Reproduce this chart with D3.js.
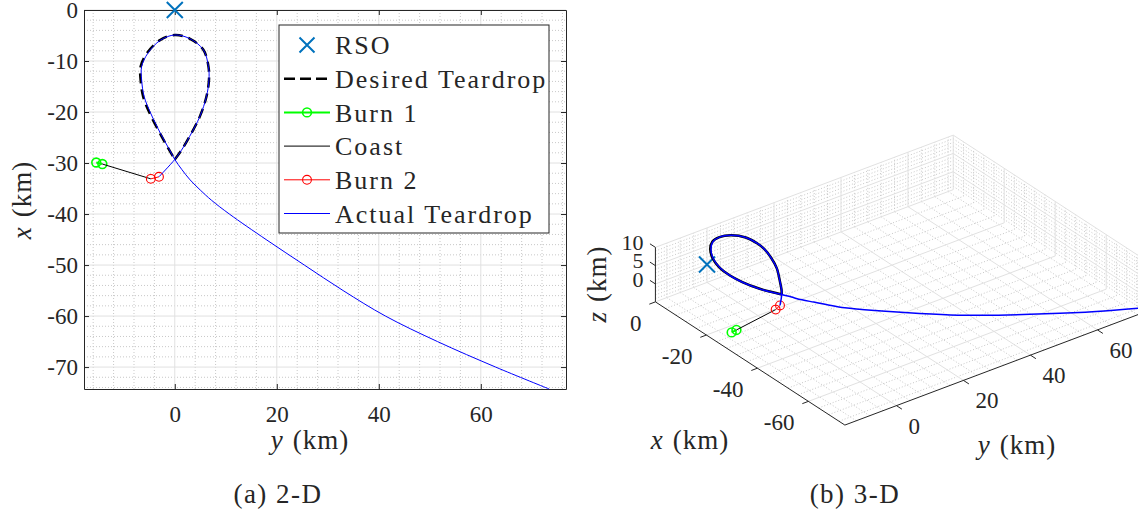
<!DOCTYPE html>
<html><head><meta charset="utf-8">
<script src="https://cdn.jsdelivr.net/npm/d3@7"></script>
<style>
body{margin:0;background:#fff;}
svg text{font-family:"Liberation Serif","DejaVu Serif",serif;fill:#262626;}
</style></head><body>
<svg id="c" width="1138" height="516"></svg>
<script>
// ---------------- DATA (km) ----------------
const rsoX=[0], rsoY=[0], rsoZ=[0];
const desiredX=[-29.3,-27.5,-24.8,-20.9,-17.0,-13.7,-11.1,-7.8,-5.6,-4.9,-5.9,-8.5,-11.1,-13.7,-17.0,-20.3,-24.2,-27.1,-29.3];
const desiredY=[0,1.3,2.9,4.9,6.2,6.7,6.6,5.6,2.9,0,-2.9,-5.5,-6.7,-6.7,-6.2,-4.9,-2.9,-1.3,0];
const desiredZ=[5.1,5.2,5.6,6.8,7.4,8.1,8.5,9.0,9.5,9.7,9.9,10.0,8.9,7.7,6.9,6.1,5.4,5.2,5.1];
const burn1X=[-29.9,-30.2], burn1Y=[-15.4,-14.2], burn1Z=[0.3,0.7];
const coastX=[-30.2,-33.1], coastY=[-14.2,-4.7], coastZ=[0.7,4.3];
const burn2X=[-33.1,-32.7], burn2Y=[-4.7,-3.1], burn2Z=[4.3,4.7];
const actualX=[-32.7,-29.3,-27.5,-24.8,-20.9,-17.0,-13.7,-11.1,-7.8,-5.6,-4.9,-5.9,-8.5,-11.1,-13.7,-17.0,-20.3,-24.2,-27.1,-29.3,-31.3,-33.3,-35.3,-37.3,-40.0,-45.0,-50.0,-55.0,-60.0,-65.0,-70.0,-74.3];
const actualY=[-3.1,0,1.3,2.9,4.9,6.2,6.7,6.6,5.6,2.9,0,-2.8,-5.3,-6.5,-6.5,-6.0,-4.7,-2.8,-1.2,0,1.4,3.0,5.0,7.2,10.7,17.9,25.4,33.0,41.3,51.5,62.9,73.4];
const actualZ=[4.7,5.1,5.2,5.6,6.8,7.4,8.1,8.5,9.0,9.5,9.7,9.8,9.8,8.7,7.5,6.7,5.9,5.3,5.1,5.1,4.8,4.4,4.0,3.5,2.6,1.5,0.5,-0.3,-0.9,-1.8,-2.8,-3.5];

const legendLabels=["RSO","Desired Teardrop","Burn 1","Coast","Burn 2","Actual Teardrop"];
const ticks2H=[0,20,40,60];            // horizontal axis (y km) of 2-D
const ticks2V=[0,-10,-20,-30,-40,-50,-60,-70]; // vertical axis (x km) of 2-D
const ticks3X=[-60,-40,-20,0];
const ticks3Y=[0,20,40,60];
const ticks3Z=[0,5,10];
const lim2H=[-17.8,76.7], lim2V=[-74.3,0];
const lim3X=[-74.3,0], lim3Y=[-15.4,73.5], lim3Z=[-4.9,10];

// ---------------- STYLE ----------------
const C={rso:"#0072BD",des:"#000",b1:"#00FF00",coast:"#000",b2:"#FF0000",act:"#0000FF",ax:"#262626",maj:"#e1e1e1",min:"#c8c8c8"};
const svg=d3.select("#c");
const pts=(X,Y,Z)=>X.map((v,i)=>({x:v,y:Y[i],z:Z[i]}));
const smooth=d3.curveCatmullRom.alpha(0.5);

// ================= 2-D =================
const H=d3.scaleLinear().domain(lim2H).range([84,566]);
const V=d3.scaleLinear().domain(lim2V).range([389,10]);
const g2=svg.append("g");
d3.range(-16,77,4).filter(v=>v%20!==0).forEach(v=>{g2.append("line").attr("x1",H(v)).attr("x2",H(v)).attr("y1",10).attr("y2",389).attr("stroke",C.min).attr("stroke-dasharray","1,2");});
d3.range(-74,0.1,2).filter(v=>v%10!==0).forEach(v=>{g2.append("line").attr("y1",V(v)).attr("y2",V(v)).attr("x1",84).attr("x2",566).attr("stroke",C.min).attr("stroke-dasharray","1,2");});
ticks2H.forEach(v=>{g2.append("line").attr("x1",H(v)).attr("x2",H(v)).attr("y1",10).attr("y2",389).attr("stroke",C.maj);});
ticks2V.forEach(v=>{g2.append("line").attr("y1",V(v)).attr("y2",V(v)).attr("x1",84).attr("x2",566).attr("stroke",C.maj);});
function styleAxis(sel){sel.selectAll("path,line").attr("stroke",C.ax);sel.selectAll("text").attr("font-size",23).attr("fill",C.ax);}
g2.append("g").attr("transform","translate(0,389)").call(d3.axisBottom(H).tickValues(ticks2H).tickSizeInner(-5).tickSizeOuter(0).tickPadding(17).tickFormat(d3.format("d"))).call(styleAxis);
g2.append("g").attr("transform","translate(0,10)").call(d3.axisTop(H).tickValues(ticks2H).tickSizeInner(-5).tickSizeOuter(0).tickFormat("")).call(styleAxis);
g2.append("g").attr("transform","translate(84,0)").call(d3.axisLeft(V).tickValues(ticks2V).tickSizeInner(-5).tickSizeOuter(0).tickPadding(6).tickFormat(d=>d===0?"0":"-"+Math.abs(d))).call(styleAxis);
g2.append("g").attr("transform","translate(566,0)").call(d3.axisRight(V).tickValues(ticks2V).tickSizeInner(-5).tickSizeOuter(0).tickFormat("")).call(styleAxis);

const line2=d3.line().x(d=>H(d.y)).y(d=>V(d.x)).curve(smooth);
const lin2=d3.line().x(d=>H(d.y)).y(d=>V(d.x));
function xMark(g,cx,cy,r){g.append("path").attr("d",`M${cx-r},${cy-r}L${cx+r},${cy+r}M${cx-r},${cy+r}L${cx+r},${cy-r}`).attr("stroke",C.rso).attr("stroke-width",2).attr("fill","none");}
function drawSet(g,lineGen,linGen,proj){
  pts(rsoX,rsoY,rsoZ).forEach(d=>{const p=proj(d);xMark(g,p[0],p[1],8);});
  const dp=g.append("path").datum(pts(desiredX,desiredY,desiredZ)).attr("d",lineGen).attr("fill","none").attr("stroke",C.des).attr("stroke-width",2.5);
  if(proj.dash) dp.attr("stroke-dasharray",proj.dash);
  const segs=[[burn1X,burn1Y,burn1Z,C.b1,2,true,1.6],[coastX,coastY,coastZ,C.coast,1,false,1],[burn2X,burn2Y,burn2Z,C.b2,1,true,1.1]];
  segs.forEach(s=>{const d=pts(s[0],s[1],s[2]);
    g.append("path").datum(d).attr("d",linGen).attr("fill","none").attr("stroke",s[3]).attr("stroke-width",s[4]);
    if(s[5]) d.forEach(q=>{const p=proj(q);g.append("circle").attr("cx",p[0]).attr("cy",p[1]).attr("r",4.4).attr("fill","none").attr("stroke",s[3]).attr("stroke-width",s[6]);});
  });
  g.append("path").datum(pts(actualX,actualY,actualZ)).attr("d",lineGen).attr("fill","none").attr("stroke",C.act).attr("stroke-width",proj.aw);
}
const proj2=d=>[H(d.y),V(d.x)]; proj2.dash="10,6"; proj2.aw=1;
drawSet(g2.append("g"),line2,lin2,proj2);

// legend
const lg=svg.append("g");
lg.append("rect").attr("x",279).attr("y",25).attr("width",270).attr("height",208).attr("fill","#fff").attr("stroke",C.ax).attr("stroke-width",1);
const legStyles=[null,[C.des,2.5,"11,5"],[C.b1,2,null],[C.coast,1,null],[C.b2,1,null],[C.act,1,null]];
legendLabels.forEach((t,i)=>{
  const y=45+i*33.7;
  if(i===0) xMark(lg,307,y,7.5);
  else{
    const st=legStyles[i];
    const l=lg.append("line").attr("x1",284).attr("x2",330).attr("y1",y).attr("y2",y).attr("stroke",st[0]).attr("stroke-width",st[1]);
    if(st[2]) l.attr("stroke-dasharray",st[2]);
    if(i===2||i===4) lg.append("circle").attr("cx",307).attr("cy",y).attr("r",4.4).attr("fill","none").attr("stroke",st[0]).attr("stroke-width",i===2?1.6:1.1);
  }
  lg.append("text").attr("x",335).attr("y",y).attr("dy","0.35em").attr("font-size",26).attr("letter-spacing",2).attr("fill","#000").text(t);
});
function lbl(g,x,y,v,rot){const t=g.append("text").attr("font-size",27).attr("letter-spacing",1).attr("fill","#262626").attr("text-anchor","middle").attr("transform",`translate(${x},${y})${rot?" rotate(-90)":""}`).attr("dy","0.35em");
  t.append("tspan").attr("font-style","italic").text(v); t.append("tspan").attr("dx",9).text("(km)");}
lbl(svg,310,440,"y",false);
lbl(svg,22,200,"x",true);
svg.append("text").attr("x",278).attr("y",494).attr("dy","0.35em").attr("text-anchor","middle").attr("font-size",27).attr("letter-spacing",1.5).attr("fill","#000").text("(a) 2-D");
svg.append("text").attr("x",855).attr("y",494).attr("dy","0.35em").attr("text-anchor","middle").attr("font-size",27).attr("letter-spacing",1.5).attr("fill","#000").text("(b) 3-D");

// ================= 3-D =================
const S=4.21, th=Math.atan2(2.55,3.35), sEl=0.495, cEl=Math.sqrt(1-sEl*sEl), OX=707, OY=264.5;
const X3=d3.scaleLinear().domain(lim3X).range(lim3X.map(v=>v*S));
const Y3=d3.scaleLinear().domain(lim3Y).range(lim3Y.map(v=>v*S));
const Z3=d3.scaleLinear().domain(lim3Z).range(lim3Z.map(v=>v*S));
function P(x,y,z){const a=X3(x),b=Y3(y),c=Z3(z);
  return [OX-Math.sin(th)*a+Math.cos(th)*b, OY-sEl*(Math.cos(th)*a+Math.sin(th)*b)-cEl*c];}
const g3=svg.append("g");
const x0=lim3X[0],x1=lim3X[1],y0=lim3Y[0],y1=lim3Y[1],z0=lim3Z[0],z1=lim3Z[1];
function seg(a,b,col,dash,w){const p=P(a[0],a[1],a[2]),q=P(b[0],b[1],b[2]);const l=g3.append("line").attr("x1",p[0]).attr("y1",p[1]).attr("x2",q[0]).attr("y2",q[1]).attr("stroke",col).attr("stroke-width",w||1);if(dash)l.attr("stroke-dasharray",dash);return l;}
const mx=d3.range(-72,0.1,4).filter(v=>v%20!==0), my=d3.range(-12,73,4).filter(v=>v%20!==0), mz=d3.range(-4,10.1,1).filter(v=>v%5!==0);
mx.forEach(v=>{seg([v,y0,z0],[v,y1,z0],C.min,"1,2");seg([v,y1,z0],[v,y1,z1],C.min,"1,2");});
my.forEach(v=>{seg([x0,v,z0],[x1,v,z0],C.min,"1,2");seg([x1,v,z0],[x1,v,z1],C.min,"1,2");});
mz.forEach(v=>{seg([x1,y0,v],[x1,y1,v],C.min,"1,2");seg([x0,y1,v],[x1,y1,v],C.min,"1,2");});
ticks3X.forEach(v=>{seg([v,y0,z0],[v,y1,z0],C.maj);seg([v,y1,z0],[v,y1,z1],C.maj);});
ticks3Y.forEach(v=>{seg([x0,v,z0],[x1,v,z0],C.maj);seg([x1,v,z0],[x1,v,z1],C.maj);});
ticks3Z.forEach(v=>{seg([x1,y0,v],[x1,y1,v],C.maj);seg([x0,y1,v],[x1,y1,v],C.maj);});
seg([x1,y0,z0],[x0,y0,z0],C.ax);
seg([x0,y0,z0],[x0,y1,z0],C.ax);
seg([x1,y0,z0],[x1,y0,z1],C.ax);
const TL=6.5;
function tickAt(p,dir,txt,dx,dy,anchor,fs){
  g3.append("line").attr("x1",p[0]).attr("y1",p[1]).attr("x2",p[0]+dir[0]*TL).attr("y2",p[1]+dir[1]*TL).attr("stroke",C.ax);
  g3.append("text").attr("x",p[0]+dx).attr("y",p[1]+dy).attr("dy","0.35em").attr("text-anchor",anchor).attr("font-size",fs||23).text(txt);}
const fmt=d=>d<0?"-"+Math.abs(d):String(d);
ticks3X.forEach(v=>tickAt(P(v,y0,z0),[-0.936,0.353],fmt(v),-14,21,"end"));
ticks3Y.forEach(v=>tickAt(P(x0,v,z0),[0.838,0.545],fmt(v),12,20,"start"));
ticks3Z.forEach(v=>tickAt(P(x1,y0,v),[-0.838,-0.545],fmt(v),-12,-5,"end",22));
lbl(svg,690,440,"x",false);
lbl(svg,1017,445,"y",false);
lbl(svg,597,284,"z",true);

const line3=d3.line().x(d=>P(d.x,d.y,d.z)[0]).y(d=>P(d.x,d.y,d.z)[1]).curve(smooth);
const lin3=d3.line().x(d=>P(d.x,d.y,d.z)[0]).y(d=>P(d.x,d.y,d.z)[1]);
const proj3=d=>P(d.x,d.y,d.z); proj3.dash=null; proj3.aw=1.5;
drawSet(g3.append("g"),line3,lin3,proj3);
</script></body></html>
